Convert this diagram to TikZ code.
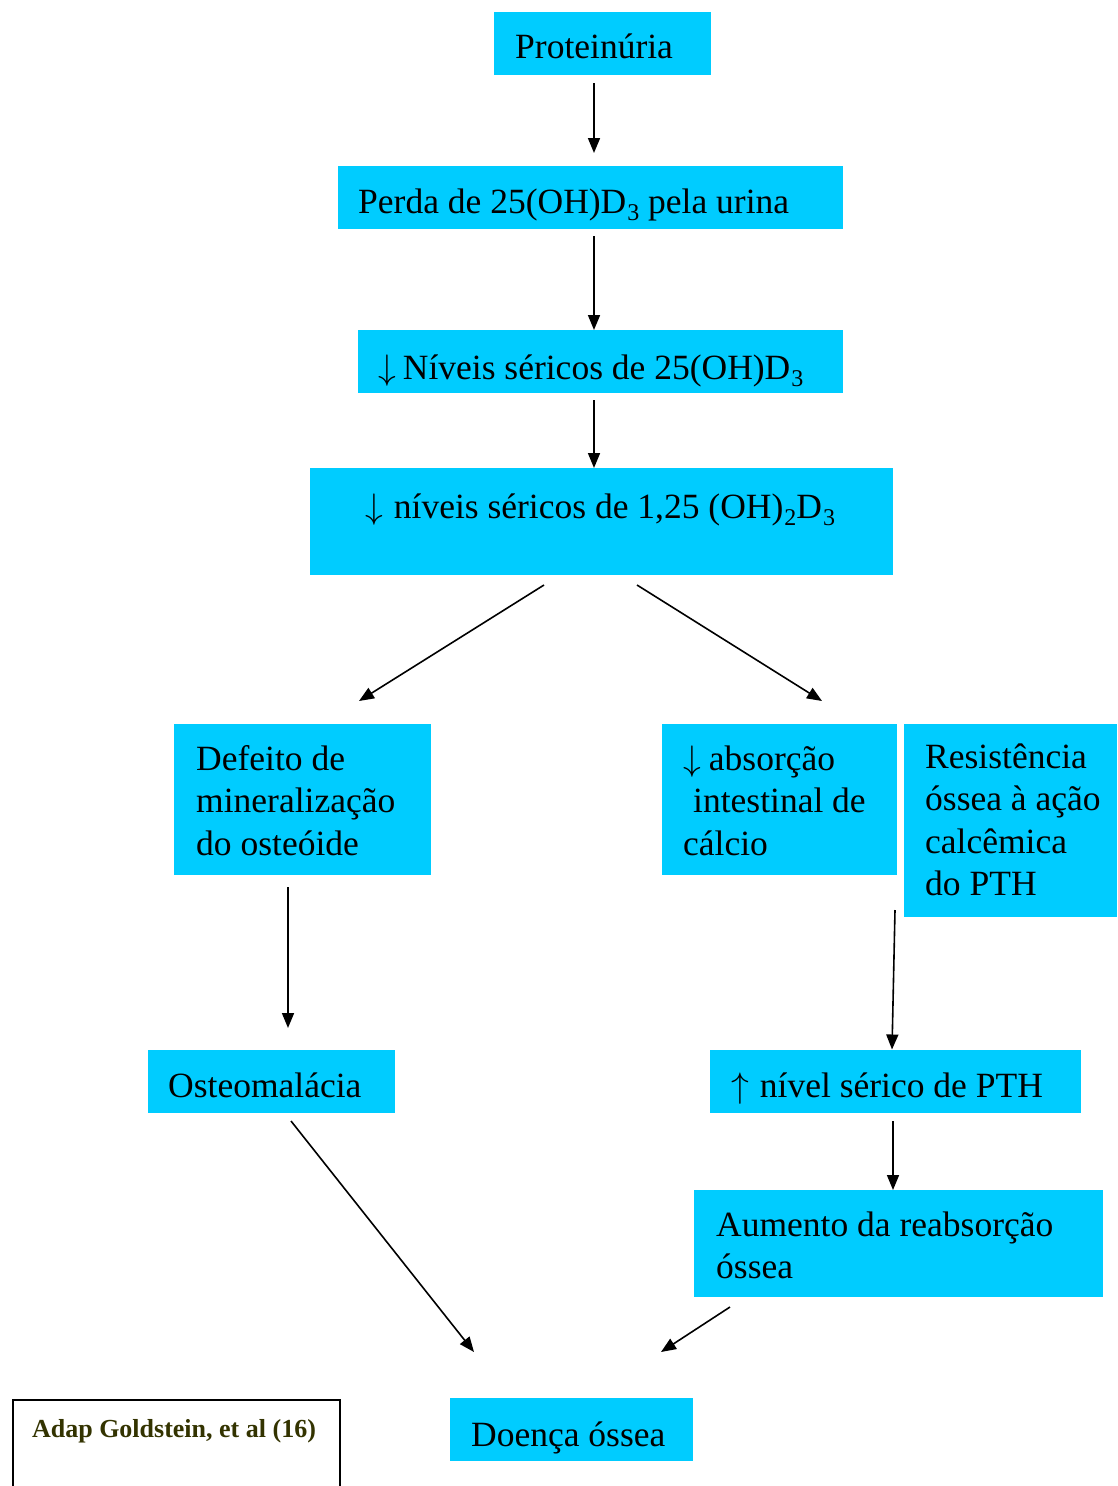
\RequirePackage{fix-cm}
\documentclass[tikz,border=0pt]{standalone}
\usepackage{fontspec}
\setmainfont{Liberation Serif}
\usetikzlibrary{arrows.meta}
\definecolor{boxcyan}{HTML}{00CCFF}
\definecolor{capcol}{HTML}{333300}
\newcommand\lowix[1]{\kern1pt\raisebox{-0.2em}{\fontsize{24}{24}\selectfont #1}}
\newcommand\dnarr{$\downarrow$\hspace{11pt}}
\newcommand\uparr{$\uparrow$\hspace{11pt}}
\begin{document}
\begin{tikzpicture}[x=1pt,y=-1pt,
  box/.style={fill=boxcyan, draw=none, inner sep=0pt, anchor=north west},
  txt/.style={font=\fontsize{35.5}{42.5}\selectfont, inner sep=0pt, anchor=north west, align=left},
  stxt/.style={font=\fontsize{35.5}{42.5}\selectfont, inner sep=0pt, anchor=base west},
  arr/.style={line width=1.6pt, -{Triangle[length=15pt,width=12pt]}}]
\useasboundingbox (0,0) rectangle (1117,1486);
% boxes
\node[box, minimum width=217pt, minimum height=63pt] (bprot) at (494,12) {};
\node[box, minimum width=505pt, minimum height=63pt] (bperda) at (338,166) {};
\node[box, minimum width=485pt, minimum height=63pt] (bniv) at (358,330) {};
\node[box, minimum width=583pt, minimum height=107pt] (bniv2) at (310,468) {};
\node[box, minimum width=257pt, minimum height=151pt] (bdef) at (174,724) {};
\node[box, minimum width=235pt, minimum height=151pt] (babs) at (662,724) {};
\node[box, minimum width=213pt, minimum height=193pt] (bres) at (904,724) {};
\node[box, minimum width=247pt, minimum height=63pt] (bost) at (148,1050) {};
\node[box, minimum width=371pt, minimum height=63pt] (bpth) at (710,1050) {};
\node[box, minimum width=409pt, minimum height=107pt] (baum) at (694,1190) {};
\node[box, minimum width=243pt, minimum height=63pt] (bdoe) at (450,1398) {};
\node[draw=black, line width=2pt, inner sep=0pt, anchor=north west, minimum width=327pt, minimum height=110pt] (bcap) at (12,1399) {};
% texts
\node[stxt] (tprot) at (515,58) {Proteinúria};
\node[stxt] (tperda) at (358,213) {Perda de 25(OH)D\lowix{3} pela urina};
\node[stxt] (tniv) at (378,379) {$\downarrow$\hspace{7pt}Níveis séricos de 25(OH)D\lowix{3}};
\node[stxt] (tniv2) at (365,518) {\dnarr níveis séricos de 1,25 (OH)\lowix{2}D\lowix{3}};
\node[txt] (tdef) at (196,740.25) {\strut Defeito de\\mineralização\\do osteóide};
\node[txt] (tabs) at (683,740.25) {\strut $\downarrow$\hspace{8pt}absorção\\\hspace*{10pt}intestinal de\\cálcio};
\node[txt] (tres) at (925,738.25) {\strut Resistência\\óssea à ação\\calcêmica\\do PTH};
\node[stxt] (tost) at (168,1097) {Osteomalácia};
\node[stxt] (tpth) at (731,1097) {\uparr nível sérico de PTH};
\node[txt] (taum) at (716,1206.25) {\strut Aumento da reabsorção\\óssea};
\node[stxt] (tdoe) at (471,1446) {Doença óssea};
\node[font=\bfseries\fontsize{26}{30}\selectfont, text=capcol, inner sep=0pt, anchor=base] (tcap) at (174,1437) {Adap Goldstein, et al (16)};
% connector end points
\coordinate (a1s) at (594,83);   \coordinate (a1e) at (594,153);
\coordinate (a2s) at (594,236);
\coordinate (a3s) at (594,400);
\coordinate (a4s) at (544,585);  \coordinate (a4e) at (359,701);
\coordinate (a5s) at (637,585);  \coordinate (a5e) at (822,701);
\coordinate (a6s) at (288,887);  \coordinate (a6e) at (288,1028);
\coordinate (a7s) at (895,910);
\coordinate (a8s) at (893,1121);
\coordinate (a9s) at (291,1121); \coordinate (a9e) at (474,1352);
\coordinate (a10s) at (730,1307); \coordinate (a10e) at (661,1352);
% connectors
\draw[arr] (a1s) -- (a1e);
\draw[arr] (a2s) -- (a2s |- bniv.north);
\draw[arr] (a3s) -- (a3s |- bniv2.north);
\draw[arr] (a4s) -- (a4e);
\draw[arr] (a5s) -- (a5e);
\draw[arr] (a6s) -- (a6e);
\draw[arr] (a7s) -- (892,1049.5);
\draw[arr] (a8s) -- (a8s |- baum.north);
\draw[arr] (a9s) -- (a9e);
\draw[arr] (a10s) -- (a10e);
\end{tikzpicture}
\end{document}
